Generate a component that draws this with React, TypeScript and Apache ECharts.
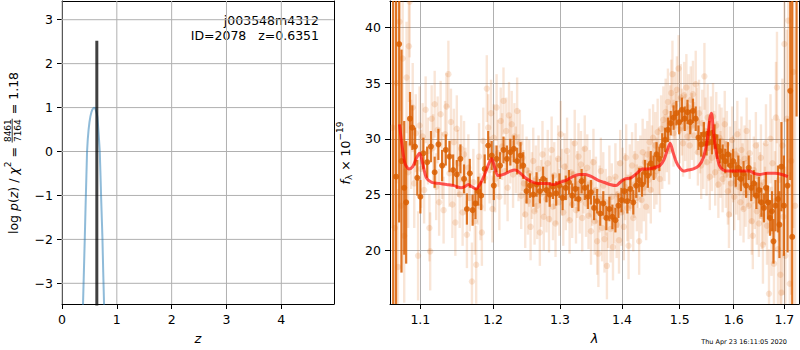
import React, { useEffect, useRef } from 'react';
import * as echarts from 'echarts';

// ---------- tick labels ----------
const zTicks = [0, 1, 2, 3, 4];
const logpTicks = [-3, -2, -1, 0, 1, 2, 3];
const lamTicks = [1.1, 1.2, 1.3, 1.4, 1.5, 1.6, 1.7];
const fluxTicks = [20, 25, 30, 35, 40];

// ---------- left panel: log p(z) ----------
const pzCurve: [number, number][] = [
  [0.372, -4.0], [0.384, -3.45], [0.4, -2.7], [0.415, -2.0], [0.43, -1.25], [0.445, -0.55],
  [0.457, 0.0], [0.47, 0.28], [0.485, 0.5], [0.5, 0.66], [0.518, 0.8], [0.535, 0.89],
  [0.555, 0.96], [0.575, 0.99], [0.59, 1.0], [0.605, 0.98], [0.62, 0.93], [0.635, 0.86],
  [0.646, 0.78], [0.66, 0.55], [0.675, 0.28], [0.689, 0.0], [0.7, -0.45], [0.715, -1.1],
  [0.728, -1.6], [0.738, -2.0], [0.752, -2.75], [0.767, -3.47], [0.778, -4.0],
];
const zBest = 0.6351;
const zBestTop = 2.52;
const objName = 'j003548m4312';
const objInfo = 'ID=2078   z=0.6351';

// ---------- right panel: spectrum ----------
const modelLine: [number, number][] = [
  [1.073, 31.3], [1.076, 29.5], [1.08, 27.8], [1.085, 27.3], [1.09, 27.5], [1.095, 28.3],
  [1.099, 28.7], [1.103, 27.8], [1.108, 26.5], [1.115, 26.1], [1.125, 26.0], [1.135, 25.9],
  [1.145, 25.8], [1.155, 25.6], [1.16, 25.7], [1.165, 25.9], [1.17, 25.7], [1.176, 25.5],
  [1.182, 26.0], [1.188, 26.8], [1.194, 27.8], [1.198, 28.2], [1.202, 27.5], [1.207, 26.7],
  [1.215, 26.8], [1.225, 27.1], [1.232, 27.2], [1.24, 26.9], [1.247, 26.5], [1.255, 26.2],
  [1.265, 26.0], [1.28, 26.0], [1.29, 25.9], [1.3, 26.1], [1.31, 26.3], [1.32, 26.6],
  [1.33, 26.8], [1.34, 26.8], [1.35, 26.6], [1.36, 26.3], [1.37, 26.1], [1.38, 25.9],
  [1.39, 25.8], [1.397, 26.1], [1.405, 26.4], [1.415, 26.5], [1.425, 26.9], [1.435, 27.3],
  [1.445, 27.3], [1.455, 27.4], [1.465, 27.6], [1.472, 28.1], [1.478, 29.0], [1.483, 29.6],
  [1.488, 28.8], [1.494, 27.9], [1.5, 27.4], [1.507, 27.1], [1.515, 27.2], [1.525, 27.3],
  [1.535, 27.6], [1.543, 28.3], [1.55, 29.8], [1.555, 31.8], [1.558, 32.3], [1.562, 30.5],
  [1.567, 28.8], [1.573, 27.6], [1.58, 27.2], [1.59, 27.1], [1.6, 27.1], [1.615, 27.1],
  [1.63, 27.1], [1.64, 26.9], [1.65, 26.8], [1.665, 26.9], [1.68, 26.9], [1.695, 26.8],
  [1.707, 26.6],
];

// binned points: [lambda, flux, error]
const binnedPoints: [number, number, number][] = [
  [1.0648, 44, 40], [1.0685, 26.6, 25], [1.0725, 38.5, 16], [1.0755, 28.0, 10], [1.079, 25.6, 6],
  [1.0815, 24.3, 5.5], [1.0865, 31.8, 2.4], [1.0895, 31.0, 2.0], [1.093, 29.3, 1.7], [1.096, 26.5, 1.6],
  [1.1, 24.8, 1.5], [1.104, 28.7, 1.4], [1.109, 27.9, 1.4], [1.114, 29.3, 1.4], [1.119, 27.0, 1.4],
  [1.124, 29.5, 1.4], [1.129, 27.6, 1.4], [1.134, 29.0, 1.4], [1.139, 28.4, 1.4], [1.144, 27.2, 1.4],
  [1.149, 26.8, 1.3], [1.154, 28.2, 1.3], [1.159, 26.4, 1.3], [1.163, 23.7, 1.4], [1.167, 26.9, 1.3],
  [1.171, 23.6, 1.4], [1.175, 24.2, 1.4], [1.179, 25.3, 1.3], [1.183, 24.9, 1.3], [1.188, 27.3, 1.3],
  [1.193, 29.4, 1.3], [1.198, 28.5, 1.3], [1.201, 25.8, 1.3], [1.205, 28.2, 1.2], [1.21, 27.6, 1.2],
  [1.215, 29.0, 1.2], [1.22, 28.2, 1.2], [1.225, 28.8, 1.2], [1.23, 29.1, 1.2], [1.235, 28.0, 1.2],
  [1.24, 28.5, 1.2], [1.244, 27.6, 1.2], [1.249, 25.3, 1.1], [1.254, 25.8, 1.1], [1.259, 25.0, 1.1],
  [1.264, 25.9, 1.1], [1.269, 25.3, 1.1], [1.274, 26.4, 1.1], [1.279, 25.4, 1.1], [1.284, 25.0, 1.1],
  [1.289, 25.7, 1.1], [1.294, 25.1, 1.1], [1.299, 25.8, 1.1], [1.304, 24.7, 1.1], [1.309, 25.6, 1.1],
  [1.314, 26.1, 1.1], [1.319, 24.9, 1.1], [1.324, 25.5, 1.1], [1.329, 24.6, 1.1], [1.334, 26.2, 1.1],
  [1.339, 25.6, 1.1], [1.344, 24.8, 1.1], [1.349, 25.2, 1.1], [1.354, 23.8, 1.1], [1.359, 24.4, 1.1],
  [1.364, 23.3, 1.1], [1.369, 24.2, 1.1], [1.374, 22.9, 1.1], [1.379, 23.7, 1.1], [1.384, 23.0, 1.1],
  [1.389, 22.7, 1.1], [1.394, 24.0, 1.1], [1.399, 24.5, 1.1], [1.404, 25.3, 1.1], [1.409, 24.4, 1.1],
  [1.414, 25.5, 1.1], [1.419, 24.3, 1.1], [1.424, 25.8, 1.1], [1.429, 26.3, 1.1], [1.434, 25.9, 1.1],
  [1.439, 27.0, 1.1], [1.444, 26.7, 1.1], [1.449, 27.8, 1.1], [1.454, 27.4, 1.1], [1.459, 28.6, 1.1],
  [1.464, 28.2, 1.1], [1.469, 29.4, 1.1], [1.474, 29.9, 1.1], [1.479, 30.8, 1.1], [1.484, 31.4, 1.1],
  [1.489, 31.9, 1.1], [1.494, 32.3, 1.1], [1.499, 31.5, 1.1], [1.504, 32.6, 1.1], [1.509, 31.8, 1.1],
  [1.514, 32.4, 1.1], [1.519, 31.5, 1.1], [1.524, 32.5, 1.1], [1.529, 31.8, 1.1], [1.534, 30.1, 1.1],
  [1.539, 29.5, 1.1], [1.544, 30.4, 1.1], [1.549, 29.6, 1.1], [1.554, 30.5, 1.1], [1.559, 29.7, 1.1],
  [1.564, 30.2, 1.1], [1.569, 29.3, 1.1], [1.574, 28.9, 1.1], [1.579, 28.4, 1.1], [1.584, 28.0, 1.1],
  [1.589, 28.6, 1.1], [1.594, 27.6, 1.1], [1.599, 28.0, 1.1], [1.604, 26.8, 1.1], [1.609, 27.4, 1.1],
  [1.614, 26.4, 1.1], [1.619, 26.9, 1.1], [1.624, 25.8, 1.1], [1.629, 27.4, 1.1], [1.634, 25.6, 1.2],
  [1.639, 26.0, 1.2], [1.644, 24.9, 1.2], [1.649, 25.4, 1.2], [1.654, 24.3, 1.3], [1.659, 23.8, 1.3],
  [1.663, 25.6, 1.4], [1.667, 24.3, 1.5], [1.671, 22.9, 1.6], [1.675, 23.5, 1.8], [1.678, 20.8, 2.0],
  [1.682, 24.0, 2.3], [1.687, 24.6, 3], [1.69, 22.3, 3], [1.694, 27.5, 4], [1.699, 24.0, 4.5],
  [1.7065, 25.8, 6], [1.712, 34.3, 8], [1.716, 21.2, 25], [1.725, 48, 16],
];

// individual exposures: [lambda, flux, error]
const rawPoints: [number, number, number][] = [
  [1.064, 31.0, 9], [1.067, 22.0, 8], [1.069, 35.0, 9], [1.071, 18.5, 7], [1.073, 40.5, 8],
  [1.075, 24.0, 6], [1.077, 37.2, 6], [1.079, 21.3, 6], [1.082, 35.5, 5], [1.084, 27.0, 5],
  [1.085, 38.3, 5], [1.086, 42.3, 5], [1.088, 29.5, 4], [1.09, 32.8, 4], [1.092, 26.0, 4],
  [1.094, 30.5, 3.5], [1.097, 19.5, 4], [1.099, 31.2, 3.5], [1.101, 27.3, 3.5], [1.103, 30.2, 3],
  [1.105, 25.4, 3], [1.107, 32.6, 3], [1.11, 28.9, 3], [1.112, 22.0, 3], [1.113, 19.9, 3.5],
  [1.115, 31.8, 3], [1.117, 29.2, 3], [1.119, 33.1, 3], [1.121, 25.7, 3], [1.123, 30.8, 3],
  [1.125, 24.3, 3], [1.127, 32.2, 3], [1.129, 27.6, 3], [1.131, 23.6, 3], [1.133, 30.4, 3],
  [1.135, 32.9, 3], [1.1375, 35.8, 3], [1.139, 26.9, 3], [1.141, 31.5, 3], [1.143, 24.1, 3],
  [1.145, 29.7, 3], [1.147, 22.5, 3], [1.149, 30.9, 3], [1.151, 27.8, 3], [1.153, 25.0, 3],
  [1.155, 29.1, 3], [1.157, 23.4, 3], [1.159, 28.6, 3], [1.161, 26.2, 3], [1.163, 21.4, 3],
  [1.165, 27.4, 3], [1.167, 24.7, 3], [1.17, 17.2, 3.5], [1.172, 26.1, 3], [1.174, 22.6, 3],
  [1.176, 18.7, 3.5], [1.178, 25.3, 3], [1.18, 28.4, 3], [1.182, 23.9, 3], [1.184, 21.6, 3],
  [1.186, 29.8, 3], [1.188, 26.5, 3], [1.191, 34.5, 3], [1.193, 31.0, 3], [1.195, 27.2, 3],
  [1.197, 32.3, 3], [1.199, 23.7, 3], [1.201, 30.1, 3], [1.203, 26.4, 3], [1.205, 32.8, 3],
  [1.207, 28.7, 3], [1.209, 24.8, 3], [1.211, 31.6, 3], [1.213, 29.3, 3], [1.215, 33.4, 3],
  [1.217, 27.1, 3], [1.219, 30.7, 3], [1.221, 25.6, 3], [1.223, 32.1, 3], [1.225, 29.0, 3],
  [1.227, 31.3, 3], [1.229, 26.8, 3], [1.231, 30.2, 3], [1.233, 28.1, 3], [1.235, 32.5, 3],
  [1.237, 27.4, 3], [1.239, 29.6, 3], [1.241, 24.9, 3], [1.243, 28.3, 3], [1.245, 26.0, 3],
  [1.247, 23.2, 3], [1.249, 27.2, 3], [1.251, 24.4, 3], [1.253, 26.9, 3], [1.255, 22.1, 3],
  [1.257, 25.8, 3], [1.259, 28.0, 3], [1.261, 23.5, 3], [1.263, 26.4, 3], [1.265, 24.0, 3],
  [1.267, 27.3, 3], [1.269, 21.6, 3], [1.271, 25.1, 3], [1.273, 28.6, 3], [1.275, 23.0, 3],
  [1.277, 26.2, 3], [1.279, 24.6, 3], [1.281, 27.8, 3], [1.283, 22.8, 3], [1.285, 25.5, 3],
  [1.287, 29.0, 3], [1.289, 23.9, 3], [1.291, 26.7, 3], [1.293, 22.4, 3], [1.295, 25.3, 3],
  [1.297, 28.2, 3], [1.299, 24.3, 3], [1.301, 30.4, 3], [1.303, 26.1, 3], [1.305, 23.4, 3],
  [1.307, 27.5, 3], [1.309, 24.8, 3], [1.311, 28.9, 3], [1.313, 25.6, 3], [1.315, 22.7, 3],
  [1.317, 27.0, 3], [1.319, 24.1, 3], [1.321, 26.8, 3], [1.323, 29.6, 3], [1.325, 23.6, 3],
  [1.327, 25.9, 3], [1.329, 28.4, 3], [1.331, 24.5, 3], [1.333, 27.7, 3], [1.335, 22.9, 3],
  [1.337, 26.3, 3], [1.339, 29.1, 3], [1.341, 24.2, 3], [1.343, 27.4, 3], [1.345, 23.1, 3],
  [1.347, 26.0, 3], [1.349, 21.7, 3], [1.351, 25.2, 3], [1.353, 27.9, 3], [1.355, 22.6, 3],
  [1.357, 25.4, 3], [1.359, 20.8, 3], [1.361, 19.7, 3], [1.363, 24.6, 3], [1.365, 27.1, 3],
  [1.367, 22.0, 3], [1.369, 25.8, 3], [1.371, 21.0, 3], [1.373, 24.3, 3], [1.375, 18.6, 3],
  [1.377, 23.2, 3], [1.379, 26.4, 3], [1.381, 21.9, 3], [1.383, 24.8, 3], [1.385, 20.3, 3],
  [1.387, 23.6, 3], [1.389, 26.6, 3], [1.391, 22.3, 3], [1.393, 25.0, 3], [1.395, 20.9, 3],
  [1.397, 27.8, 3], [1.399, 23.4, 3], [1.401, 26.2, 3], [1.403, 22.1, 3], [1.405, 25.7, 3],
  [1.407, 28.3, 3], [1.409, 23.8, 3], [1.411, 20.4, 3], [1.413, 26.5, 3], [1.415, 24.0, 3],
  [1.417, 27.6, 3], [1.419, 22.9, 3], [1.421, 25.9, 3], [1.423, 28.4, 3], [1.425, 24.7, 3],
  [1.427, 26.8, 3], [1.429, 20.8, 3], [1.431, 27.3, 3], [1.433, 24.5, 3], [1.435, 28.8, 3],
  [1.437, 25.6, 3], [1.439, 27.9, 3], [1.441, 23.9, 3], [1.443, 28.6, 3], [1.445, 26.3, 3],
  [1.447, 29.7, 3], [1.449, 25.4, 3], [1.451, 28.2, 3], [1.453, 30.1, 3], [1.455, 26.7, 3],
  [1.457, 29.4, 3], [1.459, 27.1, 3], [1.461, 30.6, 3], [1.463, 28.0, 3], [1.465, 26.4, 3],
  [1.467, 30.9, 3], [1.469, 28.5, 3], [1.471, 31.7, 3], [1.473, 29.2, 3], [1.475, 32.4, 3],
  [1.477, 30.0, 3], [1.479, 33.3, 3], [1.481, 28.9, 3], [1.483, 31.8, 3], [1.485, 34.1, 3],
  [1.487, 35.8, 3], [1.489, 30.5, 3], [1.491, 33.0, 3], [1.493, 31.2, 3], [1.495, 34.4, 3],
  [1.498, 36.3, 3], [1.5, 30.8, 3], [1.502, 33.7, 3], [1.504, 31.5, 3], [1.506, 29.6, 3],
  [1.508, 33.9, 3], [1.51, 31.0, 3], [1.512, 34.6, 3], [1.514, 30.2, 3], [1.516, 32.8, 3],
  [1.518, 29.4, 3], [1.52, 33.5, 3], [1.522, 31.1, 3], [1.524, 34.0, 3], [1.526, 30.3, 3],
  [1.529, 34.9, 3], [1.531, 31.6, 3], [1.533, 28.8, 3], [1.535, 32.3, 3], [1.537, 29.9, 3],
  [1.539, 27.6, 3], [1.541, 31.4, 3], [1.543, 28.5, 3], [1.545, 35.6, 3], [1.547, 30.7, 3],
  [1.549, 27.9, 3], [1.551, 31.9, 3], [1.553, 29.2, 3], [1.555, 26.6, 3], [1.557, 30.8, 3],
  [1.559, 28.3, 3], [1.561, 32.0, 3], [1.563, 29.5, 3], [1.565, 27.0, 3], [1.567, 31.2, 3],
  [1.569, 28.6, 3], [1.571, 25.9, 3], [1.573, 30.1, 3], [1.575, 27.7, 3], [1.577, 29.8, 3],
  [1.579, 26.4, 3], [1.581, 28.9, 3], [1.583, 31.3, 3], [1.585, 26.8, 3], [1.587, 29.5, 3],
  [1.589, 25.3, 3], [1.591, 23.2, 3], [1.593, 28.1, 3], [1.595, 26.0, 3], [1.597, 29.9, 3],
  [1.599, 27.3, 3], [1.601, 24.8, 3], [1.603, 28.6, 3], [1.605, 26.2, 3], [1.607, 30.4, 3],
  [1.609, 25.7, 3], [1.611, 27.9, 3], [1.613, 24.3, 3], [1.615, 29.0, 3], [1.617, 26.6, 3],
  [1.619, 23.7, 3], [1.621, 28.2, 3], [1.623, 25.1, 3], [1.625, 30.7, 3], [1.627, 26.9, 3],
  [1.629, 24.0, 3], [1.631, 28.7, 3], [1.633, 25.4, 3], [1.635, 22.6, 3], [1.637, 21.3, 3],
  [1.639, 27.2, 3], [1.641, 24.9, 3], [1.643, 29.4, 3], [1.645, 23.5, 3], [1.647, 26.7, 3],
  [1.649, 22.4, 3], [1.651, 25.8, 3], [1.653, 28.3, 3], [1.655, 23.1, 3], [1.657, 20.5, 3.5],
  [1.659, 26.1, 3.5], [1.661, 24.0, 3.5], [1.663, 29.6, 3.5], [1.665, 22.2, 3.5], [1.667, 25.5, 4],
  [1.669, 16.1, 4], [1.672, 30.0, 4], [1.674, 21.7, 4], [1.676, 27.8, 4], [1.679, 18.8, 4.5],
  [1.681, 24.4, 4.5], [1.683, 31.9, 5], [1.685, 34.6, 5], [1.687, 20.1, 5], [1.689, 26.3, 5.5],
  [1.692, 17.8, 6], [1.694, 16.2, 6], [1.696, 29.4, 6], [1.698, 23.0, 7], [1.7, 38.5, 7],
  [1.702, 19.5, 8], [1.705, 31.8, 8], [1.708, 40.6, 9], [1.711, 17.0, 10], [1.714, 28.0, 12],
  [1.718, 36.0, 14], [1.722, 24.0, 16],
];

const timestamp = 'Thu Apr 23 16:11:05 2020';

// ---------- helpers ----------
const FAMILY = "'DejaVu Sans', sans-serif";
const FS = 12.5;
const GRID_GRAY = '#b0b0b0';

function measure(text: string, size: number, italic = false): number {
  const c = document.createElement('canvas').getContext('2d');
  if (!c) return text.length * size * 0.6;
  c.font = `${italic ? 'italic ' : ''}${size}px ${FAMILY}`;
  return c.measureText(text).width;
}

type Piece = { t?: string; size: number; italic?: boolean; dy?: number; frac?: [string, string] };

function rotatedLabel(pieces: Piece[], cx: number, cy: number) {
  let cur = 0;
  const children: any[] = [];
  for (const p of pieces) {
    if (p.frac) {
      const w = Math.max(measure(p.frac[0], p.size), measure(p.frac[1], p.size)) + 2;
      children.push({
        type: 'text', x: cur + w / 2, y: -5.5,
        style: { text: p.frac[0], font: `${p.size}px ${FAMILY}`, fill: '#000', textAlign: 'center', textVerticalAlign: 'middle' },
      });
      children.push({
        type: 'text', x: cur + w / 2, y: 4.5,
        style: { text: p.frac[1], font: `${p.size}px ${FAMILY}`, fill: '#000', textAlign: 'center', textVerticalAlign: 'middle' },
      });
      children.push({
        type: 'line', shape: { x1: cur + 0.5, y1: -0.8, x2: cur + w - 0.5, y2: -0.8 },
        style: { stroke: '#000', lineWidth: 0.8 },
      });
      cur += w;
    } else {
      const t = p.t || '';
      const w = measure(t, p.size, !!p.italic);
      children.push({
        type: 'text', x: cur, y: p.dy || 0,
        style: {
          text: t, font: `${p.italic ? 'italic ' : ''}${p.size}px ${FAMILY}`, fill: '#000',
          textAlign: 'left', textVerticalAlign: 'middle',
        },
      });
      cur += w;
    }
  }
  return { type: 'group', x: cx, y: cy + cur / 2, rotation: Math.PI / 2, children, silent: true };
}

function errRender(color: string, opacity: number, r: number, lw: number) {
  return (params: any, api: any) => {
    const x = api.value(0);
    const y = api.value(1);
    const e = api.value(2);
    const p = api.coord([x, y]);
    const t = api.coord([x, y + e]);
    const b = api.coord([x, y - e]);
    return {
      type: 'group',
      children: [
        { type: 'line', shape: { x1: p[0], y1: t[1], x2: p[0], y2: b[1] }, style: { stroke: color, lineWidth: lw, opacity } },
        { type: 'circle', shape: { cx: p[0], cy: p[1], r }, style: { fill: color, opacity } },
      ],
    };
  };
}

// grid line through an axis value, spanning the plot rectangle
function gridLineRender(vertical: boolean) {
  return (params: any, api: any) => {
    const rect = params.coordSys;
    const p = api.coord([api.value(0), api.value(1)]);
    const shape = vertical
      ? { x1: p[0], y1: rect.y, x2: p[0], y2: rect.y + rect.height }
      : { x1: rect.x, y1: p[1], x2: rect.x + rect.width, y2: p[1] };
    return { type: 'line', shape, style: { stroke: GRID_GRAY, lineWidth: 1 }, silent: true };
  };
}

const minusFmt = (v: number) => (v < 0 ? '\u2212' + Math.abs(v) : String(v));

const baseAxis = (ticks: number[], fmt: (v: number) => string, split: boolean) => ({
  axisLine: { show: true, onZero: false, lineStyle: { color: '#000', width: 1 } },
  axisTick: { show: true, inside: false, length: 5, customValues: ticks, lineStyle: { color: '#000', width: 1 } },
  axisLabel: { show: true, customValues: ticks, margin: 9, fontSize: FS, color: '#000', fontFamily: FAMILY, formatter: fmt },
  splitLine: { show: split, lineStyle: { color: GRID_GRAY, width: 1 } },
  minorTick: { show: false },
  minorSplitLine: { show: false },
});

// spine-only axis (top / right frame)
const spine = (gridIndex: number, position: string) => ({
  gridIndex, position, type: 'value', min: 0, max: 1,
  axisLine: { show: true, onZero: false, lineStyle: { color: '#000', width: 1 } },
  axisTick: { show: false }, axisLabel: { show: false }, splitLine: { show: false },
});

export default function App() {
  const ref = useRef<HTMLDivElement>(null);
  useEffect(() => {
    if (!ref.current) return;
    const chart = echarts.init(ref.current, undefined, { renderer: 'svg' });
    const dark = 'rgb(217,95,2)';

    const yLabelLeft = rotatedLabel(
      [
        { t: 'log ', size: FS },
        { t: 'p', size: FS, italic: true },
        { t: '(', size: FS },
        { t: 'z', size: FS, italic: true },
        { t: ') / ', size: FS },
        { t: '\u03c7', size: FS, italic: true },
        { t: '2', size: 9, dy: -5 },
        { t: ' = ', size: FS },
        { frac: ['8461', '7164'], size: 9 },
        { t: ' = 1.18', size: FS },
      ],
      13, 153,
    );
    const yLabelRight = rotatedLabel(
      [
        { t: 'f', size: FS, italic: true },
        { t: '\u03bb', size: 9, dy: 3.5 },
        { t: ' \u00d7 10', size: FS },
        { t: '\u221219', size: 9, dy: -5 },
      ],
      345, 153,
    );

    chart.setOption({
      animation: false,
      grid: [
        { left: 62, top: 1, width: 272, height: 303 },
        { left: 390, top: 1, width: 409, height: 303 },
      ],
      xAxis: [
        {
          gridIndex: 0, type: 'value', min: 0, max: 4.961,
          ...baseAxis(zTicks, (v: number) => String(v), false),
          name: 'z', nameLocation: 'middle', nameGap: 28,
          nameTextStyle: { fontStyle: 'italic', fontSize: 13, color: '#000', fontFamily: FAMILY },
        },
        {
          gridIndex: 1, type: 'log', logBase: 10, min: 1.0608, max: 1.73,
          ...baseAxis(lamTicks, (v: number) => (+v).toFixed(1), true),
          name: '\u03bb', nameLocation: 'middle', nameGap: 28,
          nameTextStyle: { fontStyle: 'italic', fontSize: 13, color: '#000', fontFamily: FAMILY },
        },
        spine(0, 'top'),
        spine(1, 'top'),
      ],
      yAxis: [
        { gridIndex: 0, type: 'value', min: -3.471, max: 3.426, ...baseAxis(logpTicks, minusFmt, false) },
        { gridIndex: 1, type: 'value', min: 15.18, max: 42.36, ...baseAxis(fluxTicks, (v: number) => String(v), true) },
        spine(0, 'right'),
        spine(1, 'right'),
      ],
      graphic: [
        yLabelLeft,
        yLabelRight,
        { type: 'text', x: 319, y: 20, style: { text: objName, font: `${FS}px ${FAMILY}`, fill: '#000', textAlign: 'right', textVerticalAlign: 'middle' } },
        { type: 'text', x: 319, y: 35, style: { text: objInfo, font: `${FS}px ${FAMILY}`, fill: '#000', textAlign: 'right', textVerticalAlign: 'middle' } },
        { type: 'text', x: 787, y: 342, style: { text: timestamp, font: `6.5px ${FAMILY}`, fill: '#000', textAlign: 'right', textVerticalAlign: 'middle' } },
      ],
      series: [
        {
          type: 'custom', xAxisIndex: 0, yAxisIndex: 0, silent: true, z: 1,
          data: zTicks.map((v) => [v, 0]), encode: { x: 0, y: 1 },
          renderItem: gridLineRender(true),
        },
        {
          type: 'custom', xAxisIndex: 0, yAxisIndex: 0, silent: true, z: 1,
          data: logpTicks.map((v) => [1, v]), encode: { x: 0, y: 1 },
          renderItem: gridLineRender(false),
        },
        {
          type: 'line', xAxisIndex: 0, yAxisIndex: 0, data: pzCurve, showSymbol: false, symbol: 'none',
          lineStyle: { color: '#1f77b4', width: 2, opacity: 0.5 }, clip: true, z: 2,
        },
        {
          type: 'line', xAxisIndex: 0, yAxisIndex: 0, data: [[zBest, -4], [zBest, zBestTop]], showSymbol: false, symbol: 'none',
          lineStyle: { color: '#000', width: 3, opacity: 0.75 }, clip: true, z: 3,
        },
        {
          type: 'custom', xAxisIndex: 1, yAxisIndex: 1, data: rawPoints, encode: { x: 0, y: 1 },
          renderItem: errRender(dark, 0.16, 3.2, 2.4), clip: true, z: 2,
        },
        {
          type: 'custom', xAxisIndex: 1, yAxisIndex: 1, data: binnedPoints, encode: { x: 0, y: 1 },
          renderItem: errRender(dark, 0.85, 3.0, 2.2), clip: true, z: 3,
        },
        {
          type: 'line', xAxisIndex: 1, yAxisIndex: 1, data: modelLine, showSymbol: false, symbol: 'none', smooth: 0.3,
          lineStyle: { color: '#ff0000', width: 3, opacity: 0.65 }, clip: true, z: 4,
        },
      ],
    });
    return () => chart.dispose();
  }, []);
  return <div ref={ref} style={{ position: 'absolute', left: 0, top: 0, width: 800, height: 350 }} />;
}
